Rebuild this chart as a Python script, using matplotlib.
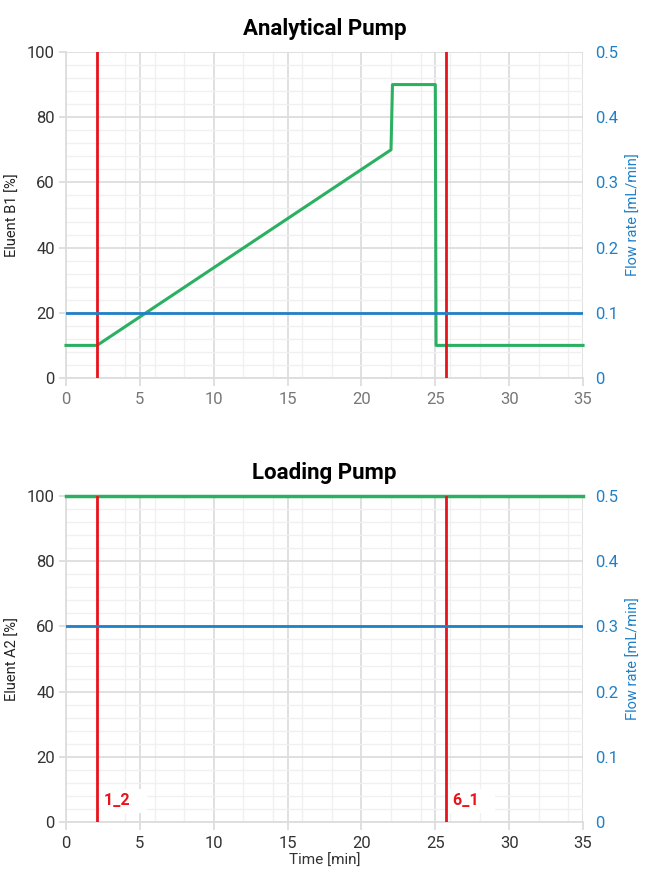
import numpy as np
import matplotlib.pyplot as plt
from matplotlib.ticker import MultipleLocator, FixedLocator

plt.rcParams['font.family'] = ['Roboto', 'DejaVu Sans']

# analytical pump gradient (time in min, eluent B1 in %)
ana_time = [0, 2.1, 22.0, 22.1, 25.0, 25.05, 35]
ana_eluent = [10, 10, 70, 90, 90, 10, 10]
ana_flow_time = [0, 35]
ana_flow = [0.1, 0.1]

# loading pump (eluent A2 in %)
load_time = [0, 35]
load_eluent = [100, 100]
load_flow_time = [0, 35]
load_flow = [0.3, 0.3]

# valve events
event_times = [2.1, 25.7]
event_labels = ['1_2', '6_1']

flow_ticks = [0, 0.1, 0.2, 0.3, 0.4, 0.5]
flow_tick_labels = ['0', '0.1', '0.2', '0.3', '0.4', '0.5']

green = '#2bb062'
blue = '#1f80c8'
red = '#e8141c'
grid_major = '#dddddd'
grid_minor = '#f0f0f0'


def setup(ax, ylabel, xcolor):
  ax.set_xlim(0, 35)
  ax.set_ylim(0, 100)
  ax.xaxis.set_major_locator(MultipleLocator(5))
  ax.xaxis.set_minor_locator(FixedLocator([t for t in range(2, 35, 2) if t % 10 != 0]))
  ax.yaxis.set_major_locator(MultipleLocator(20))
  ax.yaxis.set_minor_locator(MultipleLocator(4))
  ax.grid(True, which='major', color=grid_major, lw=1.3)
  ax.grid(True, which='minor', color=grid_minor, lw=1.0)
  ax.set_axisbelow(True)
  for s in ['top', 'right']:
    ax.spines[s].set_visible(False)
  for s in ['left', 'bottom']:
    ax.spines[s].set_color(grid_major)
    ax.spines[s].set_linewidth(1.3)
  ax.tick_params(axis='x', which='major', length=6, color=grid_major, width=1.3,
                 labelsize=12, labelcolor=xcolor, pad=4)
  ax.tick_params(axis='y', which='major', length=5, color=grid_major, width=1.3,
                 labelsize=12, labelcolor='#333333', pad=3)
  ax.tick_params(which='minor', length=0)
  ax.set_ylabel(ylabel, fontsize=10.5, color='#222222', labelpad=5)


def flow_axis(ax, t, f):
  ax2 = ax.twinx()
  ax2.set_ylim(0, 0.5)
  ax2.set_yticks(flow_ticks, flow_tick_labels)
  ax2.plot(t, f, color=blue, lw=2, zorder=3)
  for s in ax2.spines.values():
    s.set_visible(False)
  ax2.tick_params(axis='y', length=0, labelsize=12, labelcolor=blue, pad=9)
  ax2.set_ylabel('Flow rate [mL/min]', fontsize=10.5, color=blue, labelpad=6)
  return ax2


fig = plt.figure(figsize=(6.5, 8.84), dpi=100)

ax1 = fig.add_axes([0.1015, 0.5724, 0.7955, 0.3688])
setup(ax1, 'Eluent B1 [%]', '#777777')
ax1.plot(ana_time, ana_eluent, color=green, lw=2.2, zorder=4, clip_on=False)
for t in event_times:
  ax1.axvline(t, color=red, lw=2, zorder=5)
ax1.set_title('Analytical Pump', fontsize=16, fontweight='bold', pad=12)
flow_axis(ax1, ana_flow_time, ana_flow)

ax3 = fig.add_axes([0.1015, 0.0701, 0.7955, 0.3688])
setup(ax3, 'Eluent A2 [%]', '#333333')
ax3.plot(load_time, load_eluent, color=green, lw=2.5, zorder=4, clip_on=False)
for t, lab in zip(event_times, event_labels):
  ax3.axvline(t, color=red, lw=2, zorder=7)
  ax3.text(t + 0.5, 6.5, lab + '   ', color=red, fontsize=11.5, fontweight='bold',
           va='center', ha='left', zorder=6,
           bbox=dict(boxstyle='square,pad=0.3', fc='white', ec='none'))
ax3.set_title('Loading Pump', fontsize=16, fontweight='bold', pad=12)
ax3.set_xlabel('Time [min]', fontsize=11, color='#333333', labelpad=2)
flow_axis(ax3, load_flow_time, load_flow)

fig.savefig('out.png', dpi=100)
